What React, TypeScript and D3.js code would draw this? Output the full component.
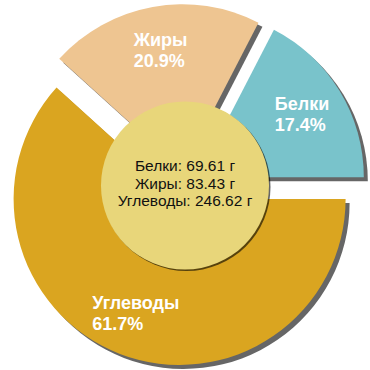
import React, { useEffect, useRef } from "react";
import * as d3 from "d3";

const categories = ["Белки", "Жиры", "Углеводы"];
const grams = [69.61, 83.43, 246.62];
const colors = ["#79C3CB", "#EEC591", "#DAA520"];
const unit = "г";

const W = 370;
const H = 370;
const CX = 185;
const CY = 185;
const R = 166;
const EXPLODE = 15;
const LABEL_R = 122;
const HOLE_R = 84;

export default function App() {
  const ref = useRef<SVGSVGElement | null>(null);

  useEffect(() => {
    const svg = d3.select(ref.current);
    svg.selectAll("*").remove();
    const total = d3.sum(grams);
    const data = categories.map((c, i) => ({ name: c, value: grams[i], color: colors[i], pct: (grams[i] / total) * 100 }));

    const pie = d3
      .pie<any>()
      .sort(null)
      .value((d: any) => d.value)
      .startAngle(Math.PI / 2)
      .endAngle(Math.PI / 2 - 2 * Math.PI);
    const arcs = pie(data);
    const arc = d3.arc<any>().innerRadius(0).outerRadius(R);
    const labelArc = d3.arc<any>().innerRadius(LABEL_R).outerRadius(LABEL_R);

    const g = svg.append("g").attr("transform", `translate(${CX},${CY})`);
    const off = (a: any) => {
      const m = (a.startAngle + a.endAngle) / 2;
      return [Math.sin(m) * EXPLODE, -Math.cos(m) * EXPLODE];
    };

    // shadows
    g.selectAll("path.shadow")
      .data(arcs)
      .join("path")
      .attr("class", "shadow")
      .attr("d", arc as any)
      .attr("fill", "#000")
      .attr("fill-opacity", 0.6)
      .attr("transform", (a: any) => {
        const [dx, dy] = off(a);
        return `translate(${dx + 4},${dy + 4})`;
      });

    g.selectAll("path.slice")
      .data(arcs)
      .join("path")
      .attr("class", "slice")
      .attr("d", arc as any)
      .attr("fill", (a: any) => a.data.color)
      .attr("transform", (a: any) => {
        const [dx, dy] = off(a);
        return `translate(${dx},${dy})`;
      });

    // labels
    arcs.forEach((a: any) => {
      const [dx, dy] = off(a);
      const [lx, ly] = labelArc.centroid(a);
      const bx = lx + dx;
      const by = ly + dy;
      const t = g
        .append("text")
        .attr("fill", "#fff")
        .attr("font-family", "Liberation Sans, Arial, sans-serif")
        .attr("font-weight", "bold")
        .attr("font-size", 18);
      const t1 = t.append("tspan").attr("y", by - 4).text(a.data.name);
      const t2 = t.append("tspan").attr("y", by + 17).text(`${a.data.pct.toFixed(1)}%`);
      const w = Math.max(
        (t1.node() as any).getComputedTextLength(),
        (t2.node() as any).getComputedTextLength()
      );
      t1.attr("x", bx - w / 2);
      t2.attr("x", bx - w / 2);
    });

    // center circle
    g.append("circle").attr("cx", 1.5).attr("cy", 2).attr("r", HOLE_R).attr("fill", "#000").attr("fill-opacity", 0.6);
    g.append("circle").attr("cx", 0).attr("cy", 0.5).attr("r", HOLE_R).attr("fill", "#E8D67A");

    const ct = g
      .append("text")
      .attr("text-anchor", "middle")
      .attr("font-family", "Liberation Sans, Arial, sans-serif")
      .attr("font-size", 15.5)
      .attr("fill", "#111");
    data.forEach((d, i) => {
      ct.append("tspan")
        .attr("x", 0)
        .attr("y", -14 + i * 17.5)
        .text(`${d.name}: ${d.value.toFixed(2)} ${unit}`);
    });
  }, []);

  return (
    <svg
      ref={ref}
      width={W}
      height={H}
      style={{ position: "absolute", left: 0, top: 0, background: "#fff" }}
    />
  );
}
